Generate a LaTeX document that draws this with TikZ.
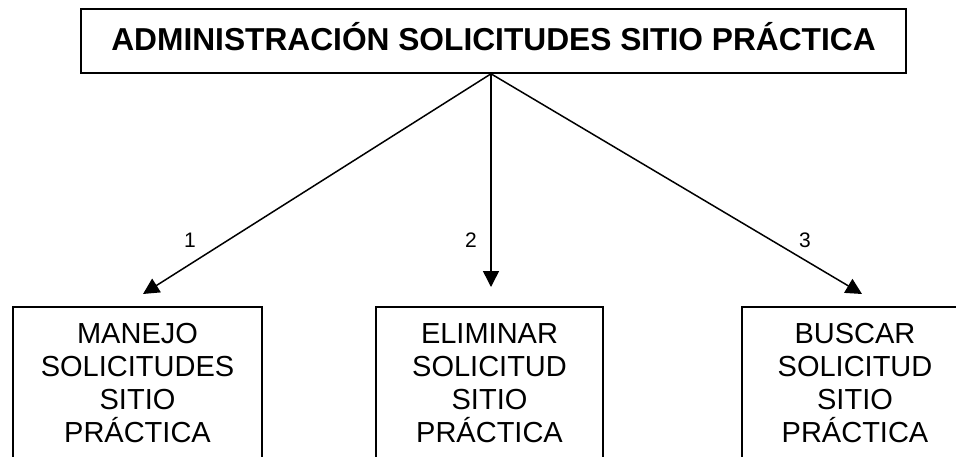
\documentclass[tikz,border=0pt]{standalone}
\usepackage{fontspec}
\setmainfont{Liberation Sans}
\usetikzlibrary{arrows.meta}
\begin{document}
\begin{tikzpicture}[x=1pt,y=-1pt,
  titlebox/.style={draw, line width=1.6pt, minimum width=825pt, minimum height=64pt,
    inner sep=0pt, text height=24pt, text depth=6pt,
    font=\fontsize{31.7}{36}\selectfont\bfseries},
  subbox/.style={draw, line width=1.6pt, inner sep=0pt, anchor=north,
    font=\fontsize{29}{33}\selectfont},
  arr/.style={line width=1.5pt, -{Triangle[length=16pt,width=16pt]}},
  numlbl/.style={font=\fontsize{21}{24}\selectfont, inner sep=0pt}]
\clip (0,0) rectangle (956,456);
\node[titlebox] (top) at (493.5,41) {ADMINISTRACIÓN SOLICITUDES SITIO PRÁCTICA};
\coordinate (src) at ([xshift=-2.5pt]top.south);
\node[subbox] (b1) at (137.5,306) {\parbox[t][170pt][t]{249pt}{\centering\rule{0pt}{37pt}MANEJO\\SOLICITUDES\\SITIO\\PRÁCTICA}};
\node[subbox] (b2) at (489.5,306) {\parbox[t][170pt][t]{227pt}{\centering\rule{0pt}{37pt}ELIMINAR\\SOLICITUD\\SITIO\\PRÁCTICA}};
\node[subbox] (b3) at (855,306) {\parbox[t][170pt][t]{226pt}{\centering\rule{0pt}{37pt}BUSCAR\\SOLICITUD\\SITIO\\PRÁCTICA}};
\draw[arr] (src) -- ([xshift=5.5pt,yshift=12pt]b1.north);
\draw[arr, shorten >=19pt] (src) -- (src |- b2.north);
\draw[arr] (src) -- ([xshift=7pt,yshift=12pt]b3.north);
\node[numlbl] (n1) at (190,240.5) {1};
\node[numlbl] (n2) at (471,240.5) {2};
\node[numlbl] (n3) at (805,240.5) {3};
\end{tikzpicture}
\end{document}
